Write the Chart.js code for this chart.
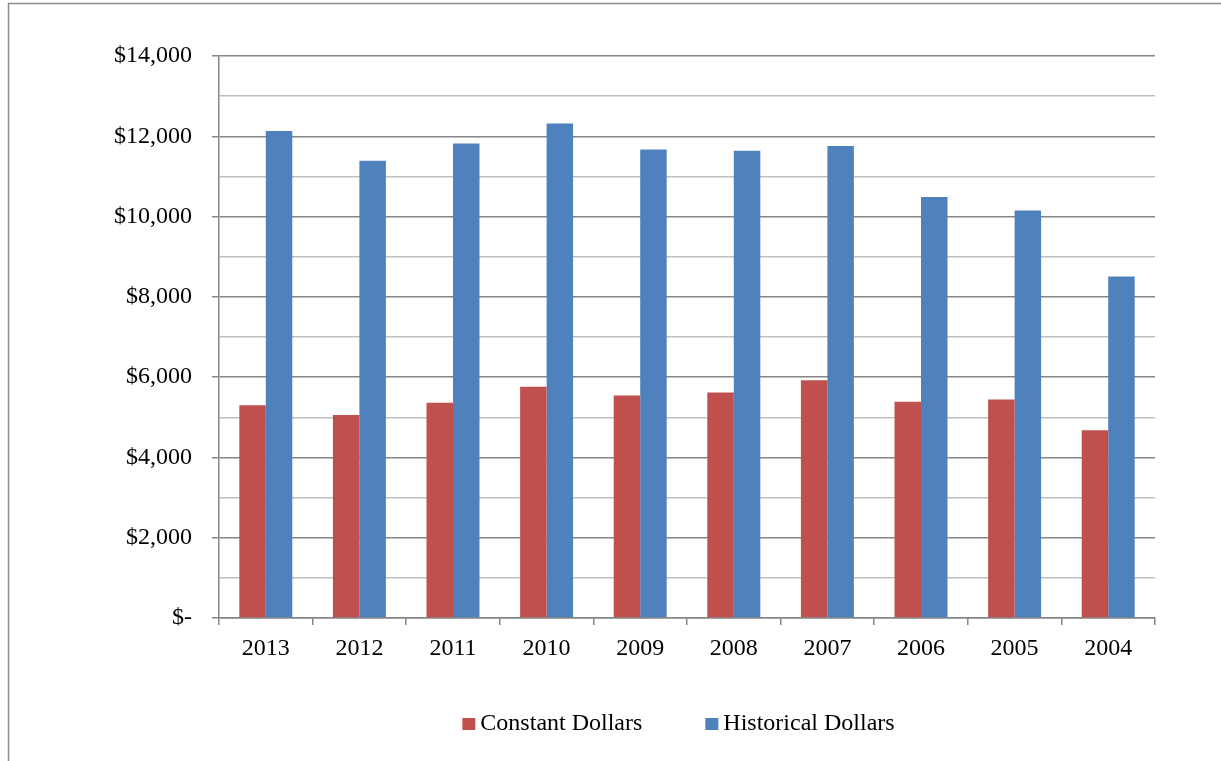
<!DOCTYPE html>
<html>
  <head>
    <script src="https://cdn.jsdelivr.net/npm/chart.js@4.4.1/dist/chart.umd.min.js"></script>
    <style>
      html, body { margin: 0; padding: 0; background: #fff; }
      canvas { display: block; }
    </style>
  </head>

  <body>
    <canvas id="canvas" width="1221" height="761"></canvas>
    <script>
      const years = ['2013', '2012', '2011', '2010', '2009', '2008', '2007', '2006', '2005', '2004'];
      const constantDollars = [5300, 5060, 5360, 5760, 5540, 5620, 5920, 5390, 5440, 4680];
      const historicalDollars = [12130, 11390, 11820, 12320, 11670, 11640, 11760, 10490, 10150, 8510];

      const FONT = "'Liberation Serif', 'Times New Roman', serif";

      // page frame + legend, drawn like the Excel export
      const frameAndLegend = {
        id: 'frameAndLegend',
        afterDraw(chart) {
          const ctx = chart.ctx;
          ctx.save();
          ctx.strokeStyle = '#8c8c8c';
          ctx.lineWidth = 1.5;
          ctx.beginPath();
          ctx.moveTo(8.5, 770);
          ctx.lineTo(8.5, 3.5);
          ctx.lineTo(1230, 3.5);
          ctx.stroke();

          ctx.font = '24px ' + FONT;
          ctx.textBaseline = 'middle';
          const items = chart.data.datasets.map((d) => ({ text: d.label, color: d.backgroundColor }));
          const box = 13, gap = 5, spacing = 63;
          const widths = items.map((it) => ctx.measureText(it.text).width);
          const total = widths.reduce((a, w) => a + box + gap + w, 0) + spacing * (items.length - 1);
          const area = chart.chartArea;
          let x = (area.left + area.right) / 2 - 8.5 - total / 2;
          const y = 724;
          items.forEach((it, i) => {
            ctx.fillStyle = it.color;
            ctx.fillRect(x, y - 6, box, 12);
            ctx.fillStyle = '#000';
            ctx.fillText(it.text, x + box + gap, y);
            x += box + gap + widths[i] + spacing;
          });
          ctx.restore();
        },
      };

      new Chart(document.getElementById('canvas').getContext('2d'), {
        type: 'bar',
        data: {
          labels: years,
          datasets: [
            {
              label: 'Constant Dollars',
              data: constantDollars,
              backgroundColor: '#C0504D',
              categoryPercentage: 0.566,
              barPercentage: 1,
            },
            {
              label: 'Historical Dollars',
              data: historicalDollars,
              backgroundColor: '#4F81BD',
              categoryPercentage: 0.566,
              barPercentage: 1,
            },
          ],
        },
        options: {
          responsive: false,
          animation: false,
          devicePixelRatio: 1,
          layout: { padding: { left: 0, right: 66, top: 56, bottom: 0 } },
          plugins: {
            legend: { display: false },
            tooltip: { enabled: false },
          },
          scales: {
            x: {
              afterFit: (scale) => { scale.height = 143; },
              grid: {
                display: true,
                offset: true,
                drawOnChartArea: false,
                drawTicks: true,
                tickLength: 7,
                color: '#868686',
                lineWidth: 1.5,
              },
              border: { color: '#868686', width: 1.5 },
              ticks: {
                color: '#000',
                padding: 9,
                font: { family: FONT, size: 24 },
              },
            },
            y: {
              min: 0,
              max: 14000,
              afterFit: (scale) => { scale.width = 219; },
              grid: {
                color: (c) => (c.tick && c.tick.value % 2000 === 0 ? '#868686' : '#bfbfbf'),
                tickColor: (c) => (c.tick && c.tick.value % 2000 === 0 ? '#868686' : 'rgba(0,0,0,0)'),
                lineWidth: 1.5,
                tickLength: 7,
              },
              border: { color: '#868686', width: 1.5 },
              ticks: {
                stepSize: 1000,
                autoSkip: false,
                padding: 20,
                color: '#000',
                font: { family: FONT, size: 24 },
                callback: (v) => {
                  if (v % 2000 !== 0) return '';
                  if (v === 0) return '$-';
                  return '$' + v.toLocaleString('en-US');
                },
              },
            },
          },
        },
        plugins: [frameAndLegend],
      });
    </script>
  </body>
</html>
